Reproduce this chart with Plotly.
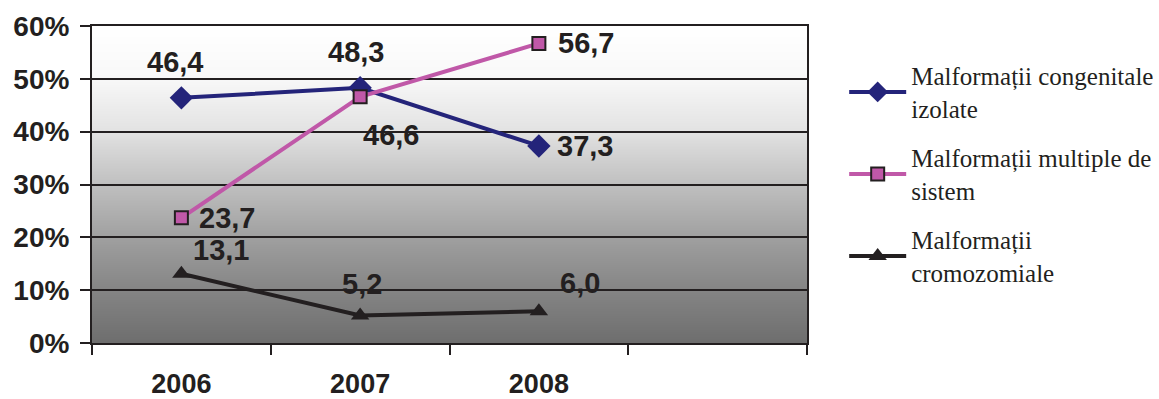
import base64
import struct
import zlib

import plotly.graph_objects as go

# --- data -------------------------------------------------------------
years = [2006, 2007, 2008]
series_names = [
    "Malformații congenitale<br>izolate",
    "Malformații multiple de<br>sistem",
    "Malformații<br>cromozomiale",
]
izolate = [46.4, 48.3, 37.3]
multiple = [23.7, 46.6, 56.7]
cromozomiale = [13.1, 5.2, 6.0]
y_ticks = [0, 10, 20, 30, 40, 50, 60]
y_tick_text = [f"{v}%" for v in y_ticks]

# --- styling ----------------------------------------------------------
INK = "#231f20"
NAVY = "#24247a"
PINK = "#c058a8"
SANS = "Liberation Sans, Arial"

# label offsets in pixels (dx, dy) for every point of each series
label_offsets = {
    "izolate": [(-6, 36), (-4, 36), (46, 0)],
    "multiple": [(46, 0), (31, -38), (47, 0)],
    "cromozomiale": [(40, 24), (2, 32), (41, 28)],
}


def gradient_png(stops, height=320):
    """Build a 1-pixel-wide vertical gray gradient PNG as a data URI."""
    rows = []
    for i in range(height):
        t = i / (height - 1)
        for (t0, g0), (t1, g1) in zip(stops[:-1], stops[1:]):
            if t0 <= t <= t1:
                g = g0 + (g1 - g0) * (t - t0) / (t1 - t0)
                break
        v = int(round(g))
        rows.append(b"\x00" + bytes([v, v, v]))
    raw = b"".join(rows)

    def chunk(tag, data):
        c = struct.pack(">I", len(data)) + tag + data
        return c + struct.pack(">I", zlib.crc32(tag + data) & 0xFFFFFFFF)

    png = b"\x89PNG\r\n\x1a\n"
    png += chunk(b"IHDR", struct.pack(">IIBBBBB", 1, height, 8, 2, 0, 0, 0))
    png += chunk(b"IDAT", zlib.compress(raw))
    png += chunk(b"IEND", b"")
    return "data:image/png;base64," + base64.b64encode(png).decode()


# top -> bottom gray levels
bg_stops = [(0.0, 255), (1 / 6, 248), (2 / 6, 226), (3 / 6, 192),
            (4 / 6, 160), (5 / 6, 133), (1.0, 110)]

fig = go.Figure()

fig.add_trace(go.Scatter(
    x=years, y=izolate, name=series_names[0], mode="lines+markers",
    legendgroup="g1",
    line=dict(color=NAVY, width=4),
    marker=dict(symbol="diamond", size=18, color=NAVY, line=dict(width=0)),
))
fig.add_trace(go.Scatter(
    x=years, y=multiple, name=series_names[1], mode="lines+markers",
    legendgroup="g2",
    line=dict(color=PINK, width=4),
    marker=dict(symbol="square", size=13, color=PINK, line=dict(width=2, color=INK)),
))
fig.add_trace(go.Scatter(
    x=years, y=cromozomiale, name=series_names[2], mode="lines+markers",
    legendgroup="g3",
    line=dict(color=INK, width=4),
    marker=dict(symbol="triangle-up", size=16, color=INK, line=dict(width=0)),
))

annotations = []
for key, values in (("izolate", izolate), ("multiple", multiple),
                    ("cromozomiale", cromozomiale)):
    for yr, v, (dx, dy) in zip(years, values, label_offsets[key]):
        annotations.append(dict(
            x=yr, y=v, xref="x", yref="y",
            text=f"{v:.1f}".replace(".", ","),
            showarrow=False, xshift=dx, yshift=dy,
            font=dict(family=SANS, size=29, color=INK, weight="bold"),
        ))

fig.update_layout(
    width=1159, height=399,
    margin=dict(l=92, r=352, t=26, b=56, autoexpand=False),
    paper_bgcolor="white",
    plot_bgcolor="white",
    annotations=annotations,
    images=[dict(
        source=gradient_png(bg_stops),
        xref="x", yref="y", x=2005.5, y=60, sizex=4, sizey=60,
        sizing="stretch", layer="below", xanchor="left", yanchor="top",
    )],
    showlegend=True,
    legend=dict(
        x=1.052, y=0.915, xanchor="left", yanchor="top",
        font=dict(family="Liberation Serif, Times New Roman", size=25, color=INK),
        bgcolor="rgba(0,0,0,0)", itemwidth=57,
        traceorder="grouped", tracegroupgap=14,
    ),
)

fig.update_xaxes(
    range=[2005.5, 2009.5], automargin=False,
    tickvals=years, ticktext=[str(y) for y in years],
    ticks="", showgrid=False, zeroline=False,
    showline=True, linecolor=INK, linewidth=2, mirror=True,
    tickfont=dict(family=SANS, size=27, color=INK, weight="bold"),
    ticklabelstandoff=16,
    minor=dict(tickvals=[2005.5, 2006.5, 2007.5, 2008.5, 2009.5],
               ticks="outside", ticklen=10, tickwidth=2, tickcolor=INK,
               showgrid=False),
)
fig.update_yaxes(
    range=[0, 60], tickvals=y_ticks, ticktext=y_tick_text, automargin=False,
    ticks="outside", ticklen=10, tickwidth=2, tickcolor=INK,
    showgrid=True, gridcolor=INK, gridwidth=2, zeroline=False,
    showline=True, linecolor=INK, linewidth=2, mirror=True,
    tickfont=dict(family=SANS, size=28, color=INK, weight="bold"),
    ticklabelstandoff=5,
)

fig.write_html("out.html")
